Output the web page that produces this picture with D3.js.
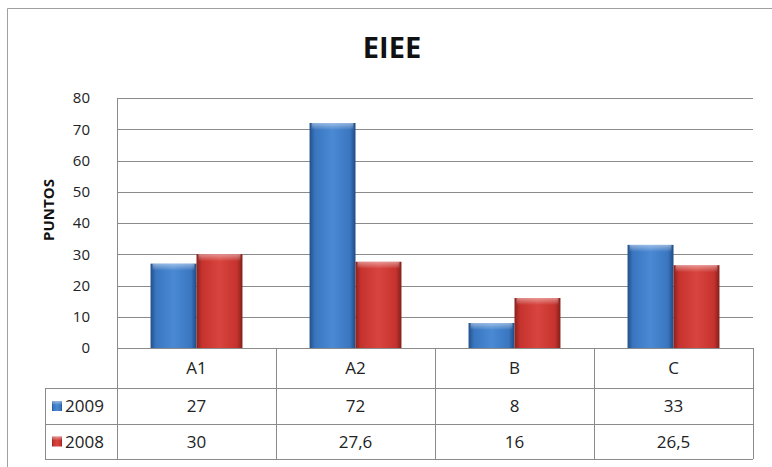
<!DOCTYPE html>
<html>
<head>
<meta charset="utf-8">
<script src="https://cdn.jsdelivr.net/npm/d3@7"></script>
<style>
  body { margin: 0; background: #fff; }
  svg { display: block; font-family: "Open Sans", sans-serif; }
</style>
</head>
<body>
<svg id="chart" width="772" height="467"></svg>
<script>
// data
var categories = ["A1", "A2", "B", "C"];
var seriesNames = ["2009", "2008"];
var values2009 = [27, 72, 8, 33];
var values2008 = [30, 27.6, 16, 26.5];
var tableLabels2009 = ["27", "72", "8", "33"];
var tableLabels2008 = ["30", "27,6", "16", "26,5"];
var yTicks = [0, 10, 20, 30, 40, 50, 60, 70, 80];

var series = [
  { name: seriesNames[0], values: values2009, labels: tableLabels2009, key: "blue" },
  { name: seriesNames[1], values: values2008, labels: tableLabels2008, key: "red" }
];

var svg = d3.select("#chart"),
    margin = {top: 98, left: 117, right: 19, bottom: 119},
    width = 772 - margin.left - margin.right,
    height = 467 - margin.top - margin.bottom,
    lineColor = "#8a8a8a",
    textColor = "#222",
    tableFont = 17;

// chart frame
svg.append("path")
    .attr("d", "M7.5,467 V8.5 H772")
    .attr("fill", "none")
    .attr("stroke", "#a0a0a0");

// gradients
var defs = svg.append("defs");
var palette = {
  blue: ["#22508a", "#3a76c0", "#4a89d4", "#3a76c0", "#1f4a82"],
  red:  ["#8a221e", "#c6332e", "#d8443e", "#c6332e", "#821f1b"]
};
Object.keys(palette).forEach(function(k) {
  var g = defs.append("linearGradient").attr("id", "grad-" + k)
      .attr("x1", "0").attr("x2", "1").attr("y1", "0").attr("y2", "0");
  [0, 0.12, 0.5, 0.88, 1].forEach(function(o, i) {
    g.append("stop").attr("offset", o).attr("stop-color", palette[k][i]);
  });
});
var shine = defs.append("linearGradient").attr("id", "shine")
    .attr("x1", "0").attr("x2", "0").attr("y1", "0").attr("y2", "1");
shine.append("stop").attr("offset", 0).attr("stop-color", "#fff").attr("stop-opacity", 0.45);
shine.append("stop").attr("offset", 1).attr("stop-color", "#fff").attr("stop-opacity", 0);

// title
svg.append("text")
    .attr("x", 392)
    .attr("y", 58)
    .attr("text-anchor", "middle")
    .attr("font-size", 29)
    .attr("font-weight", "bold")
    .attr("fill", "#111")
    .text("EIEE");

// y axis title
svg.append("text")
    .attr("transform", "translate(54,210) rotate(-90)")
    .attr("text-anchor", "middle")
    .attr("font-size", 15)
    .attr("font-weight", "bold")
    .attr("fill", "#111")
    .text("PUNTOS");

var g = svg.append("g").attr("transform", "translate(" + margin.left + "," + margin.top + ")");

var x0 = d3.scaleBand()
    .domain(categories)
    .range([0, width])
    .padding(0);
var x1 = d3.scaleBand()
    .domain(seriesNames)
    .range([0, x0.bandwidth()])
    .paddingInner(0)
    .paddingOuter(0.73);
var y = d3.scaleLinear()
    .domain([0, 80])
    .range([height, 0]);

// gridlines
g.append("g")
    .selectAll("line")
    .data(yTicks)
  .enter().append("line")
    .attr("x1", 0)
    .attr("x2", width)
    .attr("y1", function(d) { return Math.round(y(d)) + 0.5; })
    .attr("y2", function(d) { return Math.round(y(d)) + 0.5; })
    .attr("stroke", lineColor);

// y axis
var yAxis = g.append("g")
    .call(d3.axisLeft(y).tickValues(yTicks).tickSize(0).tickPadding(27));
yAxis.select(".domain").attr("stroke", lineColor);
yAxis.selectAll("text")
    .attr("font-family", "Open Sans, sans-serif")
    .attr("font-size", 15)
    .attr("fill", textColor);

// bars
var groups = g.selectAll(".cat")
    .data(categories)
  .enter().append("g")
    .attr("transform", function(d) { return "translate(" + x0(d) + ",0)"; });

groups.selectAll("g.bar")
    .data(function(d, i) {
      return series.map(function(s) { return {name: s.name, value: s.values[i], key: s.key}; });
    })
  .enter().append("g")
    .attr("class", "bar")
    .each(function(d) {
      var b = d3.select(this),
          bx = x1(d.name),
          bw = x1.bandwidth(),
          by = y(d.value),
          bh = height - y(d.value);
      b.append("rect")
          .attr("x", bx).attr("y", by)
          .attr("width", bw).attr("height", bh)
          .attr("fill", "url(#grad-" + d.key + ")");
      b.append("rect")
          .attr("x", bx + 2).attr("y", by)
          .attr("width", bw - 4).attr("height", Math.min(7, bh))
          .attr("fill", "url(#shine)");
    });

// data table
var rowH = [40, 36, 35],
    tableTop = height,
    legendLeft = 45 - margin.left,
    t = g.append("g").attr("class", "table");

var rowY = [tableTop, tableTop + rowH[0], tableTop + rowH[0] + rowH[1], tableTop + rowH[0] + rowH[1] + rowH[2]];

// horizontal lines
[1, 2, 3].forEach(function(r) {
  t.append("line").attr("x1", legendLeft).attr("x2", width)
      .attr("y1", rowY[r] + 0.5).attr("y2", rowY[r] + 0.5).attr("stroke", lineColor);
});
t.append("line").attr("x1", 0).attr("x2", width)
    .attr("y1", rowY[0] + 0.5).attr("y2", rowY[0] + 0.5).attr("stroke", lineColor);

// vertical lines
t.selectAll("line.v")
    .data(categories.map(function(c) { return x0(c); }).concat([width]))
  .enter().append("line")
    .attr("class", "v")
    .attr("x1", function(d) { return Math.round(d) + 0.5; })
    .attr("x2", function(d) { return Math.round(d) + 0.5; })
    .attr("y1", rowY[0]).attr("y2", rowY[3])
    .attr("stroke", lineColor);
t.append("line")
    .attr("x1", legendLeft + 0.5).attr("x2", legendLeft + 0.5)
    .attr("y1", rowY[1]).attr("y2", rowY[3])
    .attr("stroke", lineColor);

// category labels
t.selectAll("text.cat")
    .data(categories)
  .enter().append("text")
    .attr("class", "cat")
    .attr("x", function(d) { return x0(d) + x0.bandwidth() / 2; })
    .attr("y", (rowY[0] + rowY[1]) / 2 + 6)
    .attr("text-anchor", "middle")
    .attr("font-size", tableFont)
    .attr("fill", textColor)
    .text(function(d) { return d; });

// series rows
series.forEach(function(s, si) {
  var cy = (rowY[si + 1] + rowY[si + 2]) / 2;
  t.append("rect")
      .attr("x", legendLeft + 7).attr("y", cy - 5)
      .attr("width", 10).attr("height", 10)
      .attr("fill", "url(#grad-" + s.key + ")");
  t.append("rect")
      .attr("x", legendLeft + 7).attr("y", cy - 5)
      .attr("width", 10).attr("height", 4)
      .attr("fill", "url(#shine)");
  t.append("text")
      .attr("x", legendLeft + 20).attr("y", cy + 6)
      .attr("font-size", tableFont)
      .attr("fill", textColor)
      .text(s.name);
  t.selectAll("text.v" + si)
      .data(s.labels)
    .enter().append("text")
      .attr("class", "v" + si)
      .attr("x", function(d, i) { return x0(categories[i]) + x0.bandwidth() / 2; })
      .attr("y", cy + 6)
      .attr("text-anchor", "middle")
      .attr("font-size", tableFont)
      .attr("fill", textColor)
      .text(function(d) { return d; });
});
</script>
</body>
</html>
